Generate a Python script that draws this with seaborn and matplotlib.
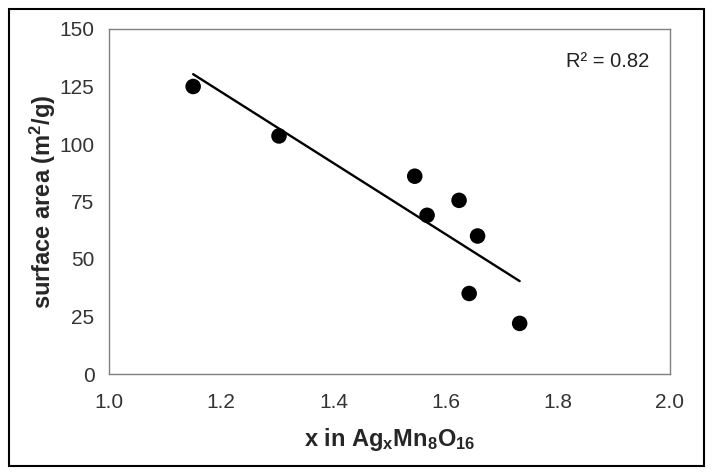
"""
Surface area vs Ag content in AgxMn8O16, with linear fit (R^2 = 0.82)
"""
import numpy as np
import pandas as pd
import seaborn as sns
import matplotlib.pyplot as plt
from matplotlib.patches import Rectangle

# 読み取ったデータ
x_ag = [1.150, 1.303, 1.545, 1.567, 1.624, 1.657, 1.642, 1.732]
surface_area = [125.0, 103.5, 86.0, 69.0, 75.5, 60.0, 35.0, 22.0]
x_ticks = [1.0, 1.2, 1.4, 1.6, 1.8, 2.0]
y_ticks = [0, 25, 50, 75, 100, 125, 150]
r2_label = "R² = 0.82"

df = pd.DataFrame({"x": x_ag, "area": surface_area})

sns.set_style("white")
plt.rcParams["font.family"] = ["Liberation Sans", "DejaVu Sans"]
plt.rcParams["mathtext.default"] = "regular"

fig = plt.figure(figsize=(7.14, 4.76), dpi=100)
ax = fig.add_axes([109 / 714, 102 / 476, 561 / 714, 345 / 476])

sns.regplot(
    data=df, x="x", y="area", ax=ax, ci=None,
    scatter_kws={"s": 125, "color": "black", "edgecolor": "none", "alpha": 1},
    line_kws={"color": "black", "linewidth": 1.7},
)

ax.set_xlim(1.0, 2.0)
ax.set_ylim(0, 150)
ax.set_xticks(x_ticks)
ax.set_xticklabels([f"{t:.1f}" for t in x_ticks])
ax.set_yticks(y_ticks)

for s in ax.spines.values():
    s.set_color("#808080")
    s.set_linewidth(1.0)
ax.tick_params(axis="both", direction="out", length=4.5, width=1.0, color="#808080",
               labelsize=15, labelcolor="#333333")
ax.tick_params(axis="y", pad=6)
ax.tick_params(axis="x", pad=9)

ax.set_xlabel("x in Ag$_x$Mn$_8$O$_{16}$", fontsize=17, fontweight="bold", labelpad=10)
ax.set_ylabel("surface area (m$^2$/g)", fontsize=17, fontweight="bold", labelpad=1)

ax.text(0.963, 0.907, r2_label, transform=ax.transAxes, ha="right", va="center",
        fontsize=14.5, color="#222222")

# 外枠
fig.patches.append(Rectangle((9 / 714, 10 / 476), 695 / 714, 457 / 476, transform=fig.transFigure,
                             fill=False, edgecolor="black", linewidth=1.5))

fig.savefig("out.png", dpi=100)
plt.close(fig)
